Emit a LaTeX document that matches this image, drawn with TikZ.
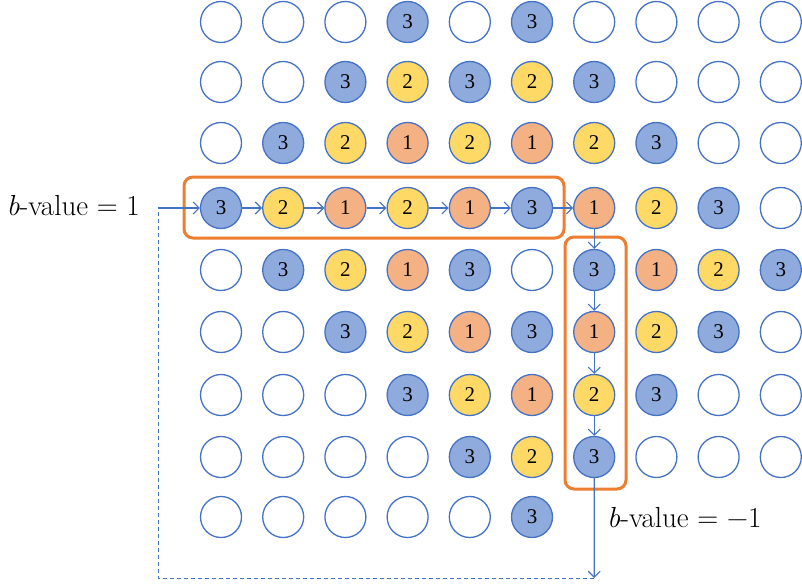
\documentclass[tikz,border=0pt]{standalone}
\usepackage{fontspec}
\newfontfamily\digitfont{Liberation Serif}
\usetikzlibrary{arrows.meta}
\definecolor{bstroke}{HTML}{4472C4}
\definecolor{bfill}{HTML}{8FAADC}
\definecolor{yfill}{HTML}{FFD966}
\definecolor{ofill}{HTML}{F4B183}
\definecolor{obox}{HTML}{ED7D31}
\tikzset{
  cell/.style={circle, draw=bstroke, line width=1.3pt, minimum size=41pt, inner sep=0pt},
  v0/.style={cell, fill=white},
  v1/.style={cell, fill=ofill},
  v2/.style={cell, fill=yfill},
  v3/.style={cell, fill=bfill},
  link/.style={draw=bstroke, line width=1.1pt, -{Straight Barb[length=6pt,width=12pt]}},
  backlink/.style={draw=bstroke, line width=1pt, dash pattern=on 4pt off 3pt},
  hl/.style={draw=obox, line width=3pt, rounded corners=9pt},
  blabel/.style={font=\fontsize{29}{34}\selectfont, inner sep=0pt}
}
\newcommand{\celltext}[1]{{\digitfont\fontsize{21}{23}\selectfont #1}}
\begin{document}
\begin{tikzpicture}[x=1pt,y=-1pt]
\useasboundingbox (0,0) rectangle (802,588);
\foreach \r/\y/\vals in {
  0/22/{0,0,0,3,0,3,0,0,0,0},
  1/82/{0,0,3,2,3,2,3,0,0,0},
  2/143/{0,3,2,1,2,1,2,3,0,0},
  3/208/{3,2,1,2,1,3,1,2,3,0},
  4/270/{0,3,2,1,3,0,3,1,2,3},
  5/332/{0,0,3,2,1,3,1,2,3,0},
  6/395/{0,0,0,3,2,1,2,3,0,0},
  7/457/{0,0,0,0,3,2,3,0,0,0},
  8/517/{0,0,0,0,0,3}} {
  \foreach \v [count=\c from 0] in \vals {
    \node[v\v] (c\r-\c) at ({221+62.2*\c},\y) {\ifnum\v>0 \celltext{\v}\fi};
  }
}
% highlight boxes
\draw[hl] (184,177) rectangle (564,238);
\draw[hl] (565,237) rectangle (626,489);
% path along the row
\foreach \a/\b in {0/1,1/2,2/3,3/4,4/5,5/6} {
  \draw[link] (c3-\a) -- (c3-\b);
}
\foreach \a/\b in {3/4,4/5,5/6,6/7} {
  \draw[link] (c\a-6) -- (c\b-6);
}
\coordinate (bot) at (594.2,578);
\coordinate (lft) at (158,578);
\coordinate (entry) at (158,208);
\draw[link] (c7-6) -- (bot);
\draw[backlink] (bot) -- (lft) -- (entry);
\draw[link] (entry) -- (c3-0);
% labels
\node[blabel, anchor=base east] (lb1) at (140,215) {\textit{b}-value = 1};
\node[blabel, anchor=base west] (lb2) at (607,527) {\textit{b}-value = −1};
\end{tikzpicture}
\end{document}
